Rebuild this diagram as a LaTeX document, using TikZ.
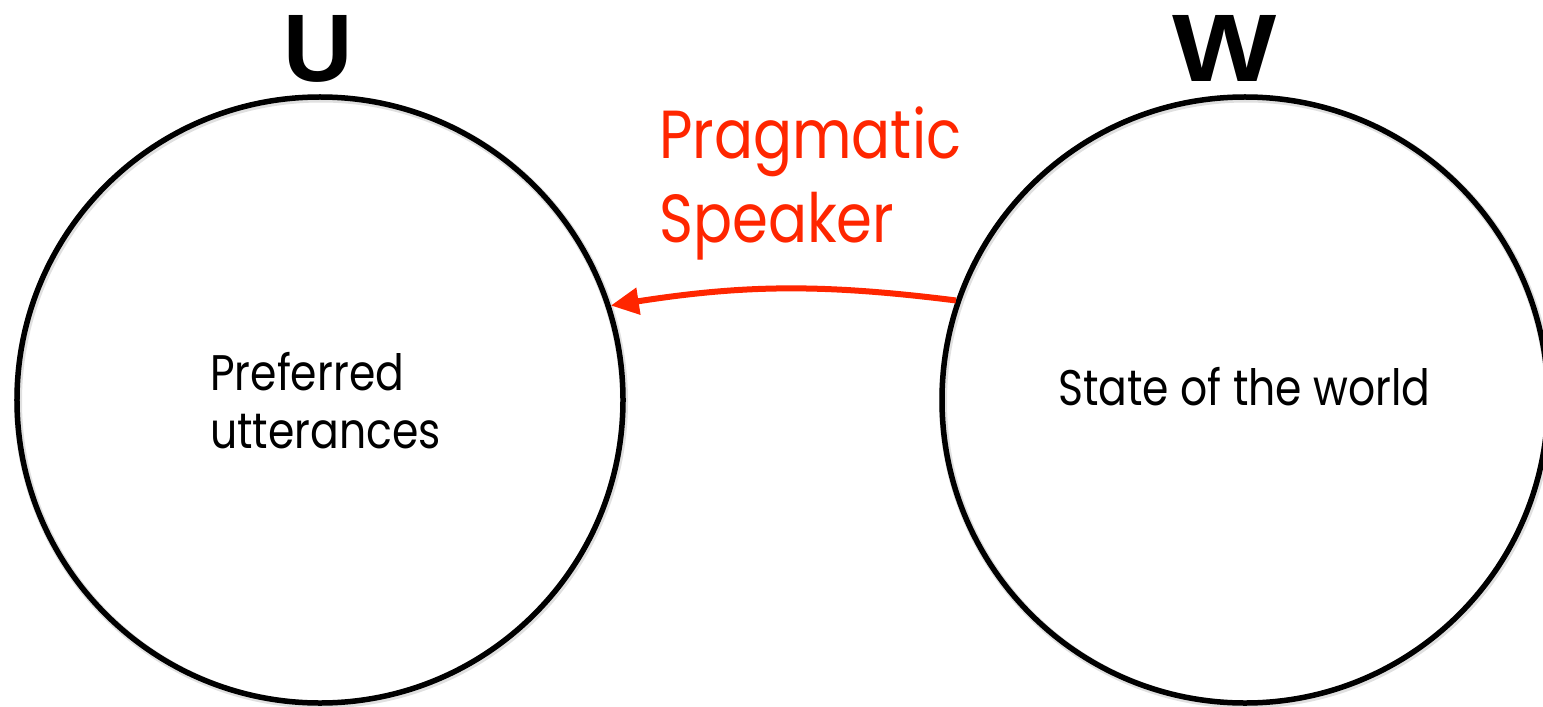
\documentclass[tikz,border=0pt]{standalone}
\usepackage{fontspec}
\setmainfont{Poppins}[FakeStretch=0.85]
\newfontfamily\headfont{Liberation Sans}
\usetikzlibrary{arrows.meta}
\definecolor{speakerred}{RGB}{255,38,0}
\tikzset{
  set/.style={circle, draw=black, line width=5.5bp, minimum size=606bp, inner sep=0pt},
  setshadow/.style={draw=black, opacity=0.12, line width=8bp},
  setname/.style={font=\headfont\bfseries\fontsize{96bp}{96bp}\selectfont, inner sep=0pt, anchor=base},
  body/.style={font=\fontsize{50bp}{58bp}\selectfont, inner sep=0pt, anchor=base west, align=left},
  relation/.style={draw=speakerred, line width=6bp, -{Triangle[length=28bp,width=26bp]}},
  rellabel/.style={font=\fontsize{68bp}{84bp}\selectfont, text=speakerred, inner sep=0pt, anchor=base west, align=left}
}
\begin{document}
\begin{tikzpicture}[x=1bp, y=-1bp]
  \useasboundingbox[fill=white] (0,0) rectangle (1543,707);

  % soft shadows under the two sets
  \draw[setshadow] (321,401.5) circle[radius=303];
  \draw[setshadow] (1246,401.5) circle[radius=303];

  % the two sets
  \node[set] (U) at (320,400) {};
  \node[set] (W) at (1245,400) {};

  % set names
  \node[setname] (Uname) at (318,82) {U};
  \node[setname, xscale=1.15] (Wname) at (1225,82) {W};

  % contents of the sets (base anchor sits on the last line)
  \node[body] (Utext) at (210,448) {Preferred\\utterances};
  \node[body] (Wtext) at (1058,405) {State of the world};

  % pragmatic speaker: from states to utterances
  \draw[relation] (W.161.4) to[bend right=8] (U.18.6);
  \node[rellabel] (Speaker) at (659,242) {Pragmatic\\Speaker};
\end{tikzpicture}
\end{document}
